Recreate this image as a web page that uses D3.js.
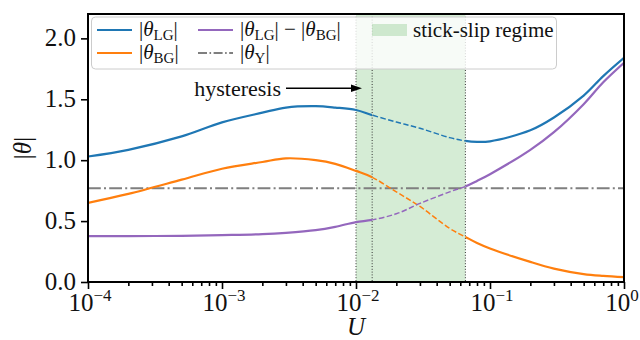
<!DOCTYPE html>
<html><head><meta charset="utf-8">
<script src="https://cdn.jsdelivr.net/npm/d3@7"></script>
<style>body{margin:0;background:#fff}</style>
</head><body><svg id="c" width="640" height="340"></svg>
<script>
// ---- data ----
const U         = [1e-4, 2e-4, 5e-4, 1e-3, 2e-3, 3e-3, 5e-3, 7e-3, 1e-2, 1.32e-2, 2e-2, 3e-2, 5e-2, 6.55e-2, 0.08, 0.1, 0.2, 0.3, 0.5, 0.7, 1];
const thetaLG   = [1.03, 1.085, 1.195, 1.31, 1.39, 1.432, 1.443, 1.432, 1.412, 1.37, 1.313, 1.262, 1.185, 1.158, 1.15, 1.155, 1.245, 1.35, 1.53, 1.69, 1.84];
const thetaBG   = [0.65, 0.723, 0.84, 0.93, 0.985, 1.015, 1.0, 0.97, 0.912, 0.86, 0.74, 0.62, 0.44, 0.37, 0.32, 0.275, 0.165, 0.11, 0.065, 0.05, 0.04];
const thetaDiff = [0.377, 0.377, 0.379, 0.385, 0.393, 0.404, 0.426, 0.453, 0.492, 0.51, 0.56, 0.645, 0.74, 0.785, 0.83, 0.885, 1.085, 1.23, 1.46, 1.64, 1.80];
const thetaY    = 0.77;
const stickSlip = [0.01, 0.0655];
const hysteresisU = 0.0132;
const xTickExps = [-4, -3, -2, -1, 0];
const yTicks    = [0, 0.5, 1.0, 1.5, 2.0];

// ---- layout ----
const FONT = '"Liberation Serif"';
const L = 88, R = 624, T = 14, B = 282;
const svg = d3.select("#c");
const x = d3.scaleLog().domain([1e-4, 1]).range([L, R]);
const y = d3.scaleLinear().domain([0, 2.2]).range([B, T]);

function txt(sel) { return sel.append("text").style("font-family", FONT).attr("fill", "#111"); }

// stick-slip span
svg.append("rect").attr("x", x(stickSlip[0])).attr("y", T)
  .attr("width", x(stickSlip[1]) - x(stickSlip[0])).attr("height", B - T)
  .attr("fill", "#2ca02c").attr("fill-opacity", 0.2);

// dotted vertical lines
[stickSlip[0], hysteresisU, stickSlip[1]].forEach(u => {
  svg.append("line").attr("x1", x(u)).attr("x2", x(u)).attr("y1", T).attr("y2", B)
    .attr("stroke", "#333").attr("stroke-width", 1).attr("stroke-dasharray", "1,1.8");
});

// clip paths
const defs = svg.append("defs");
const clips = [
  ["cl", L, x(hysteresisU)],
  ["cm", x(hysteresisU), x(stickSlip[1])],
  ["cr", x(stickSlip[1]), R]
];
clips.forEach(([id, a, b]) => {
  defs.append("clipPath").attr("id", id).append("rect")
    .attr("x", a).attr("y", 0).attr("width", b - a).attr("height", 340);
});

const line = d3.line().x(d => x(d[0])).y(d => y(d[1])).curve(d3.curveCatmullRom.alpha(0.5));
const series = [
  [thetaLG, "#1f77b4"],
  [thetaBG, "#ff7f0e"],
  [thetaDiff, "#9467bd"]
];

// gray dash-dot
svg.append("line").attr("x1", L).attr("x2", R).attr("y1", y(thetaY)).attr("y2", y(thetaY))
  .attr("stroke", "#7f7f7f").attr("stroke-width", 2).attr("stroke-dasharray", "12.8,3.2,2,3.2");

series.forEach(([vals, col]) => {
  const pts = U.map((u, i) => [u, vals[i]]);
  const d = line(pts);
  svg.append("path").attr("d", d).attr("clip-path", "url(#cl)").attr("fill", "none")
    .attr("stroke", col).attr("stroke-width", 2.2);
  svg.append("path").attr("d", d).attr("clip-path", "url(#cr)").attr("fill", "none")
    .attr("stroke", col).attr("stroke-width", 2.2);
  svg.append("path").attr("d", d).attr("clip-path", "url(#cm)").attr("fill", "none")
    .attr("stroke", col).attr("stroke-width", 1.5).attr("stroke-dasharray", "5.5,2.4");
});

// axes
const xAxis = svg.append("g").attr("transform", `translate(0,${B})`);
const minor = [];
for (let e = -4; e < 0; e++) for (let k = 2; k <= 9; k++) minor.push(k * Math.pow(10, e));
xAxis.call(d3.axisBottom(x).tickValues(minor).tickSize(4).tickFormat(""));
xAxis.append("g").call(d3.axisBottom(x).tickValues(xTickExps.map(e => Math.pow(10, e))).tickSize(7).tickFormat(""));
xAxis.selectAll(".domain").remove();
xAxis.selectAll("line").attr("stroke", "#000").attr("stroke-width", 1.6);

xTickExps.forEach(e => {
  const t = txt(svg).attr("x", x(Math.pow(10, e)) + (e === 0 ? -2 : 2)).attr("y", 311)
    .attr("text-anchor", "middle").attr("font-size", 25);
  t.append("tspan").text("10");
  t.append("tspan").attr("dy", -10).attr("font-size", 17).text(e < 0 ? "\u2212" + (-e) : String(e));
});

const yAxis = svg.append("g").attr("transform", `translate(${L},0)`);
yAxis.call(d3.axisLeft(y).tickValues(yTicks).tickSize(7).tickFormat(""));
yAxis.selectAll(".domain").remove();
yAxis.selectAll("line").attr("stroke", "#000").attr("stroke-width", 1.6);
yTicks.forEach(v => {
  txt(svg).attr("x", 76).attr("y", y(v) + 8).attr("text-anchor", "end")
    .attr("font-size", 25).text(d3.format(".1f")(v));
});

// frame
svg.append("rect").attr("x", L).attr("y", T).attr("width", R - L).attr("height", B - T)
  .attr("fill", "none").attr("stroke", "#000").attr("stroke-width", 2);

// axis labels
txt(svg).attr("x", (L + R) / 2).attr("y", 335).attr("text-anchor", "middle")
  .attr("font-size", 25).attr("font-style", "italic").text("U");
const yl = txt(svg).attr("transform", `translate(31,${(T + B) / 2}) rotate(-90)`)
  .attr("text-anchor", "middle").attr("font-size", 25);
yl.append("tspan").text("|");
yl.append("tspan").attr("font-style", "italic").text("\u03b8");
yl.append("tspan").text("|");

// hysteresis annotation
txt(svg).attr("x", 281).attr("y", 96).attr("text-anchor", "end")
  .attr("font-size", 22).text("hysteresis");
svg.append("line").attr("x1", 286).attr("x2", 353).attr("y1", 88.3).attr("y2", 88.3)
  .attr("stroke", "#000").attr("stroke-width", 1.6);
svg.append("path").attr("d", "M362,88.3 L351,84.5 L351,92.1 Z").attr("fill", "#000");

// legend
svg.append("rect").attr("x", 91.5).attr("y", 17).attr("width", 465).attr("height", 52).attr("rx", 4)
  .attr("fill", "#fff").attr("fill-opacity", 0.8).attr("stroke", "#ccc").attr("stroke-width", 1);

function label(xx, yy, parts) {
  const tx = txt(svg).attr("x", xx).attr("y", yy).attr("font-size", 21);
  parts.forEach(p => {
    const s = tx.append("tspan").text(p.t);
    if (p.i) s.attr("font-style", "italic");
    if (p.sub) s.attr("font-size", 15).attr("dy", 4);
    if (p.up) s.attr("dy", -4);
  });
}
const LGp = [{t: "|"}, {t: "\u03b8", i: 1}, {t: "LG", sub: 1}, {t: "|", up: 1}];
const BGp = [{t: "|"}, {t: "\u03b8", i: 1}, {t: "BG", sub: 1}, {t: "|", up: 1}];
const Yp  = [{t: "|"}, {t: "\u03b8", i: 1}, {t: "Y", sub: 1}, {t: "|", up: 1}];
const Dp  = [{t: "|"}, {t: "\u03b8", i: 1}, {t: "LG", sub: 1}, {t: "| \u2212 |", up: 1}, {t: "\u03b8", i: 1}, {t: "BG", sub: 1}, {t: "|", up: 1}];

const legendItems = [
  {col: "#1f77b4", x0: 97, ty: 30, parts: LGp},
  {col: "#ff7f0e", x0: 97, ty: 53, parts: BGp},
  {col: "#9467bd", x0: 198, ty: 30, parts: Dp},
  {col: "#7f7f7f", x0: 198, ty: 53, parts: Yp, dash: "9,2.5,1.6,2.5"}
];
legendItems.forEach(it => {
  const l = svg.append("line").attr("x1", it.x0).attr("x2", it.x0 + 35).attr("y1", it.ty).attr("y2", it.ty)
    .attr("stroke", it.col).attr("stroke-width", 2.2);
  if (it.dash) l.attr("stroke-dasharray", it.dash).attr("stroke-width", 2);
  label(it.x0 + 42, it.ty + 6, it.parts);
});
svg.append("rect").attr("x", 372).attr("y", 24).attr("width", 35).attr("height", 12)
  .attr("fill", "#2ca02c").attr("fill-opacity", 0.2);
txt(svg).attr("x", 413).attr("y", 37).attr("font-size", 21).text("stick-slip regime");
</script></body></html>
